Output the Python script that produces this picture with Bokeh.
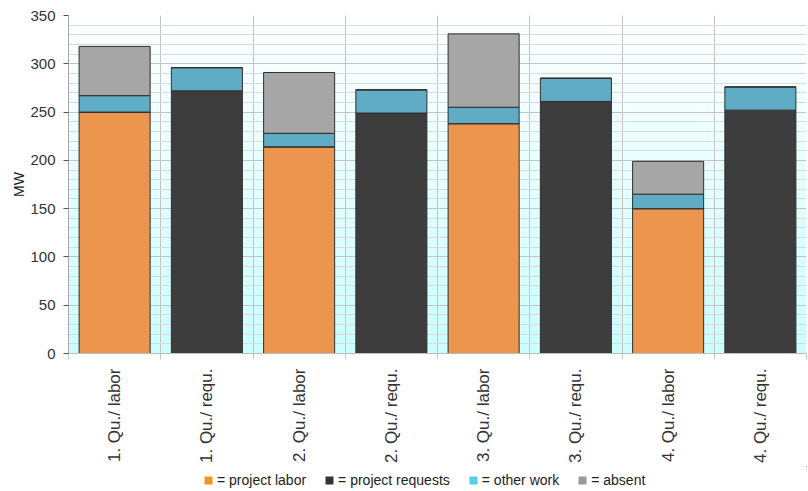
import numpy as np
from bokeh.plotting import figure
from bokeh.layouts import column
from bokeh.models import FixedTicker, Range1d, Legend, LegendItem
from bokeh.embed import file_html
from bokeh.resources import INLINE

# ---- data ----
categories = ["1. Qu./ labor", "1. Qu./ requ.", "2. Qu./ labor", "2. Qu./ requ.",
              "3. Qu./ labor", "3. Qu./ requ.", "4. Qu./ labor", "4. Qu./ requ."]
project_labor = [250, 0, 214, 0, 238, 0, 150, 0]
project_requests = [0, 272, 0, 249, 0, 261, 0, 252]
other_work = [17, 24, 14, 24, 17, 24, 15, 24]
absent = [51, 0, 63, 0, 76, 0, 34, 0]
y_ticks = [0, 50, 100, 150, 200, 250, 300, 350]
legend_labels = ["= project labor", "= project requests", "= other work", "= absent"]

bar_colors = ["#EB954F", "#3D3D3D", "#5FACC4", "#A6A6A6"]
legend_colors = ["#F7941D", "#333333", "#55CCF2", "#9A9A9A"]

FONT = "Liberation Sans"

n = len(categories)
centers = [i + 0.5 for i in range(n)]

p = figure(frame_width=738, frame_height=338, output_backend="svg", toolbar_location=None,
           x_range=Range1d(0, n), y_range=Range1d(0, 350),
           min_border_left=68, min_border_right=2, min_border_top=15, min_border_bottom=113,
           background_fill_color="white", border_fill_color="white")

# gradient background
rows = 120
img = np.empty((rows, 1), dtype=np.uint32)
view = img.view(dtype=np.uint8).reshape((rows, 1, 4))
for i in range(rows):
    t = i / (rows - 1)  # 0 bottom -> 1 top
    view[i, 0, 0] = int(203 + 52 * t)
    view[i, 0, 1] = 255
    view[i, 0, 2] = 255
    view[i, 0, 3] = 255
p.image_rgba(image=[img], x=0, y=0, dw=n, dh=350, level="image")

source = dict(x=centers, labor=project_labor, requests=project_requests,
              other=other_work, absent=absent)
p.vbar_stack(["labor", "requests", "other", "absent"], x="x", width=0.77, source=source,
             color=bar_colors, line_color="#2E2E2E", line_width=1)

# axes
p.yaxis.ticker = FixedTicker(ticks=y_ticks, minor_ticks=list(range(0, 351, 10)))
p.yaxis.axis_label = "MW"
p.yaxis.axis_label_text_font = FONT
p.yaxis.axis_label_text_font_style = "normal"
p.yaxis.axis_label_text_font_size = "14px"
p.yaxis.axis_label_text_color = "#222222"
p.yaxis.axis_label_standoff = 0
p.yaxis.major_label_text_font = FONT
p.yaxis.major_label_text_font_size = "15px"
p.yaxis.major_label_text_color = "#333333"
p.yaxis.major_tick_out = 5
p.yaxis.major_tick_in = 0
p.yaxis.major_tick_line_color = "#555555"
p.yaxis.minor_tick_line_color = None
p.yaxis.axis_line_color = "#A8A8A8"
p.yaxis.major_label_standoff = 8

p.xaxis.ticker = FixedTicker(ticks=centers, minor_ticks=list(range(n + 1)))
p.xaxis.major_label_overrides = {c: lab for c, lab in zip(centers, categories)}
p.xaxis.major_label_orientation = np.pi / 2
p.xaxis.major_label_text_font = FONT
p.xaxis.major_label_text_font_size = "17px"
p.xaxis.major_label_text_color = "#333333"
p.xaxis.major_label_standoff = 9
p.xaxis.major_tick_line_color = None
p.xaxis.minor_tick_out = 6
p.xaxis.minor_tick_in = 0
p.xaxis.minor_tick_line_color = "#C8C8C8"
p.xaxis.axis_line_color = "#BDBDBD"

# grids
p.ygrid.ticker = FixedTicker(ticks=y_ticks, minor_ticks=list(range(0, 351, 10)))
p.ygrid.grid_line_color = "#C4C4C4"
p.ygrid.minor_grid_line_color = "#DADADA"
p.xgrid.ticker = FixedTicker(ticks=list(range(n + 1)))
p.xgrid.grid_line_color = "#C4C4C4"
p.outline_line_color = None

# legend strip (separate figure below the chart; its frame aligns with the chart frame).
# Its ranges lie away from the data, so the legend's own renderers show only as swatches.
leg = figure(width=808, height=25, output_backend="svg", toolbar_location=None,
             x_range=Range1d(-3, -2), y_range=Range1d(-3, -2),
             x_axis_type=None, y_axis_type=None, min_border=0,
             background_fill_color="white", border_fill_color="white")
leg.outline_line_color = None
leg.grid.visible = False
items = []
for lab, col, series in zip(legend_labels, legend_colors,
                            [project_labor, project_requests, other_work, absent]):
    r = leg.vbar(x=centers, top=series, width=0.77, fill_color=col, line_color=None)
    items.append(LegendItem(label=lab, renderers=[r]))
lg = Legend(items=items, location=(135, 3), orientation="horizontal",
            glyph_width=10, glyph_height=10, label_standoff=4, padding=0, margin=0,
            spacing=18, label_text_font=FONT, label_text_font_size="14px",
            label_text_color="#222222", background_fill_alpha=0,
            border_line_alpha=0, label_height=14)
leg.add_layout(lg, "center")

layout = column(p, leg, spacing=0)
open("out.html", "w").write(file_html(layout, INLINE))
